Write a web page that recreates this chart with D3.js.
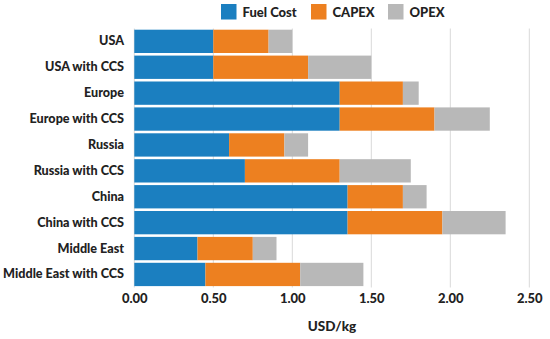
<!DOCTYPE html>
<html><head><meta charset="utf-8">
<script src="https://cdn.jsdelivr.net/npm/d3@7/dist/d3.min.js"></script>
<style>body{margin:0;background:#fff}svg{display:block}text{font-family:Lato,"Open Sans",sans-serif;font-weight:900;fill:#222}</style>
</head><body><svg id="c" width="550" height="339"></svg>
<script>
const categories = ["USA","USA with CCS","Europe","Europe with CCS","Russia","Russia with CCS","China","China with CCS","Middle East","Middle East with CCS"];
const fuelCost = [0.5,0.5,1.3,1.3,0.6,0.7,1.35,1.35,0.4,0.45];
const capex    = [0.35,0.6,0.4,0.6,0.35,0.6,0.35,0.6,0.35,0.6];
const opex     = [0.15,0.4,0.1,0.35,0.15,0.45,0.15,0.4,0.15,0.4];
const seriesNames = ["Fuel Cost","CAPEX","OPEX"];
const colors = ["#1b7fc0","#ed8020","#b8b8b8"];
const xTicks = [0,0.5,1,1.5,2,2.5];
const xTitle = "USD/kg";

const svg = d3.select("#c");
const x = d3.scaleLinear().domain([0,2.5]).range([134.3,529.3]);
const y = d3.scaleBand().domain(categories).range([28.4,287.4]).paddingInner(0.1).paddingOuter(0.05);

const rows = categories.map((c,i)=>({cat:c, "Fuel Cost":fuelCost[i], "CAPEX":capex[i], "OPEX":opex[i]}));
const stacked = d3.stack().keys(seriesNames)(rows);

// grid
svg.append("g").selectAll("line").data(xTicks).join("line")
  .attr("x1",d=>x(d)).attr("x2",d=>x(d)).attr("y1",28.5).attr("y2",287.5)
  .attr("stroke","#d9d9d9").attr("stroke-width",1);

// bars
svg.append("g").selectAll("g").data(stacked).join("g")
  .attr("fill",(d,i)=>colors[i])
  .selectAll("rect").data(d=>d).join("rect")
  .attr("x",d=>x(d[0])).attr("width",d=>x(d[1])-x(d[0]))
  .attr("y",d=>y(d.data.cat)).attr("height",y.bandwidth());

const fontSet = sel => sel.style("font-size","12.6px").style("font-family","Lato").style("font-weight","900").attr("fill","#222");

// x axis
const xa = svg.append("g").attr("transform","translate(0,298)")
  .call(d3.axisBottom(x).tickValues(xTicks).tickFormat(d3.format(".2f")).tickSize(0));
xa.select(".domain").remove();
xa.selectAll("text").attr("dy","0.35em").attr("y",0).call(fontSet).style("font-size","13px");

// y axis
const ya = svg.append("g").attr("transform","translate(124,0)")
  .call(d3.axisLeft(y).tickSize(0).tickPadding(0));
ya.select(".domain").remove();
ya.selectAll("text").call(fontSet);

svg.append("text").attr("x",332).attr("y",326).attr("dy","0.35em").attr("text-anchor","middle")
  .style("font-size","13.5px").text(xTitle);

// legend
const legX = [221,311,388];
const lg = svg.append("g").selectAll("g").data(seriesNames).join("g")
  .attr("transform",(d,i)=>`translate(${legX[i]},4)`);
lg.append("rect").attr("width",15.5).attr("height",15.5).attr("fill",(d,i)=>colors[i]);
lg.append("text").attr("x",21.5).attr("y",8).attr("dy","0.35em").style("font-size","13px").text(d=>d);
</script></body></html>
